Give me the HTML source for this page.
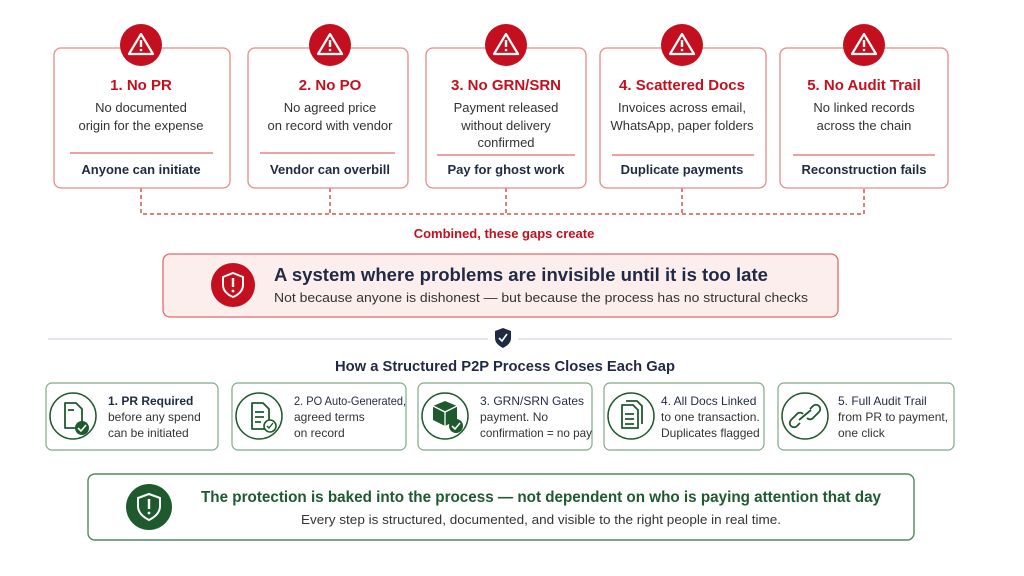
<!DOCTYPE html>
<html><head><meta charset="utf-8"><style>
html,body{margin:0;padding:0;background:#fff;}
svg{display:block;font-family:"Liberation Sans",sans-serif;}
</style></head><body>
<svg width="1024" height="576" viewBox="0 0 1024 576" xmlns="http://www.w3.org/2000/svg">
<rect width="1024" height="576" fill="#fff"/>
<g stroke="#d9534f" stroke-width="1.5" stroke-dasharray="4,3" fill="none">
<path d="M141 188V214H864V188"/><path d="M330 188V214"/><path d="M506 188V214"/><path d="M682 188V214"/>
</g>
<g fill="#fff" stroke="#e88a87" stroke-width="1.3">
<rect x="54" y="48" width="176" height="140" rx="7"/>
<rect x="248" y="48" width="160" height="140" rx="7"/>
<rect x="426" y="48" width="160" height="140" rx="7"/>
<rect x="600" y="48" width="166" height="140" rx="7"/>
<rect x="780" y="48" width="168" height="140" rx="7"/>
</g>
<g stroke="#e06b67" stroke-width="1.2">
<line x1="70" y1="153" x2="213" y2="153"/><line x1="260" y1="153" x2="395" y2="153"/>
<line x1="437" y1="155" x2="575" y2="155"/><line x1="612" y1="155" x2="754" y2="155"/>
<line x1="793" y1="155" x2="935" y2="155"/>
</g>
<g fill="#c4101e">
<circle cx="141" cy="45" r="21"/><circle cx="330" cy="45" r="21"/><circle cx="506" cy="45" r="21"/><circle cx="682" cy="45" r="21"/><circle cx="864" cy="45" r="21"/>
</g>
<g fill="none" stroke="#fff" stroke-width="2.2" stroke-linejoin="round">
<path d="M141 34L153 54H129Z"/><path d="M330 34L342 54H318Z"/><path d="M506 34L518 54H494Z"/><path d="M682 34L694 54H670Z"/><path d="M864 34L876 54H852Z"/>
</g>
<g fill="#fff">
<rect x="139.8" y="40" width="2.4" height="7"/><circle cx="141" cy="50" r="1.3"/>
<rect x="328.8" y="40" width="2.4" height="7"/><circle cx="330" cy="50" r="1.3"/>
<rect x="504.8" y="40" width="2.4" height="7"/><circle cx="506" cy="50" r="1.3"/>
<rect x="680.8" y="40" width="2.4" height="7"/><circle cx="682" cy="50" r="1.3"/>
<rect x="862.8" y="40" width="2.4" height="7"/><circle cx="864" cy="50" r="1.3"/>
</g>
<g font-weight="bold" font-size="15" fill="#c4101e" text-anchor="middle">
<text x="141" y="90">1. No PR</text><text x="330" y="90">2. No PO</text><text x="506" y="90">3. No GRN/SRN</text>
<text x="682" y="90">4. Scattered Docs</text><text x="864" y="90">5. No Audit Trail</text>
</g>
<g font-size="13" fill="#333" text-anchor="middle">
<text x="141" y="112">No documented</text><text x="141" y="130">origin for the expense</text>
<text x="330" y="112">No agreed price</text><text x="330" y="130">on record with vendor</text>
<text x="506" y="112">Payment released</text><text x="506" y="130">without delivery</text><text x="506" y="147">confirmed</text>
<text x="682" y="112">Invoices across email,</text><text x="682" y="130">WhatsApp, paper folders</text>
<text x="864" y="112">No linked records</text><text x="864" y="130">across the chain</text>
</g>
<g font-size="13" font-weight="bold" fill="#1f2a44" text-anchor="middle">
<text x="141" y="174">Anyone can initiate</text><text x="330" y="174">Vendor can overbill</text>
<text x="506" y="174">Pay for ghost work</text><text x="682" y="174">Duplicate payments</text><text x="864" y="174">Reconstruction fails</text>
</g>
<text x="504" y="238" text-anchor="middle" font-size="13" font-weight="bold" fill="#c4101e">Combined, these gaps create</text>
<rect x="163" y="254" width="675" height="63" rx="7" fill="#fdeeee" stroke="#e06b67" stroke-width="1.3"/>
<circle cx="233" cy="285" r="22" fill="#c4101e"/>
<path d="M233 273L243 277V285C243 291 238 295 233 297C228 295 223 291 223 285V277Z" fill="none" stroke="#fff" stroke-width="2"/>
<rect x="231.8" y="278" width="2.4" height="9" fill="#fff"/><circle cx="233" cy="291" r="1.4" fill="#fff"/>
<text x="274" y="281" font-size="18" font-weight="bold" fill="#1f2a44" textLength="494" lengthAdjust="spacingAndGlyphs">A system where problems are invisible until it is too late</text>
<text x="274" y="302" font-size="13" fill="#333" textLength="534" lengthAdjust="spacingAndGlyphs">Not because anyone is dishonest — but because the process has no structural checks</text>
<line x1="48" y1="339" x2="488" y2="339" stroke="#c5ccd8" stroke-width="1"/>
<line x1="518" y1="339" x2="952" y2="339" stroke="#c5ccd8" stroke-width="1"/>
<path d="M503 328L511 331V338C511 343 507 346 503 348C499 346 495 343 495 338V331Z" fill="#1f2a44"/>
<path d="M499 338L502 341L507 334" fill="none" stroke="#fff" stroke-width="1.6"/>
<text x="505" y="371" text-anchor="middle" font-size="15" font-weight="bold" fill="#1f2a44" textLength="340" lengthAdjust="spacingAndGlyphs">How a Structured P2P Process Closes Each Gap</text>
<g fill="#fff" stroke="#7faa88" stroke-width="1.2">
<rect x="46" y="383" width="172" height="67" rx="6"/><rect x="232" y="383" width="174" height="67" rx="6"/>
<rect x="418" y="383" width="174" height="67" rx="6"/><rect x="604" y="383" width="160" height="67" rx="6"/>
<rect x="778" y="383" width="176" height="67" rx="6"/>
</g>
<g fill="none" stroke="#1f5a2e" stroke-width="1.5">
<circle cx="73" cy="416" r="23"/><circle cx="259" cy="416" r="23"/><circle cx="445" cy="416" r="23"/><circle cx="631" cy="416" r="23"/><circle cx="805" cy="416" r="23"/>
</g>
<g fill="none" stroke="#1f5a2e" stroke-width="1.8" stroke-linejoin="round">
<path d="M65 403H76L82 409V428H65Z"/><path d="M68 410H74"/>
<path d="M252 403H263L269 409V429H252Z"/><path d="M255 412H264M255 417H264M255 422H261"/>
<path d="M622 405H633L638 410V428H622Z"/><path d="M626 401H637L642 406V424"/><path d="M625 414H634M625 419H634M625 424H634"/>
<path d="M800 423L797 426A4 4 0 0 1 791 420L797 414A4 4 0 0 1 803 414"/>
<path d="M810 409L813 406A4 4 0 0 1 819 412L813 418A4 4 0 0 1 807 418"/>
<path d="M799 420L811 410"/>
</g>
<path d="M445 401L457 406V420L445 426L433 420V406Z" fill="#1f5a2e"/>
<path d="M433 406L445 412L457 406M445 412V426" stroke="#fff" stroke-width="1.3" fill="none"/>
<g fill="#1f5a2e"><circle cx="82" cy="428" r="7"/><circle cx="456" cy="426" r="7"/></g>
<circle cx="270" cy="426" r="6" fill="#fff" stroke="#1f5a2e" stroke-width="1.6"/>
<g fill="none" stroke="#fff" stroke-width="1.6"><path d="M78 428L81 431L86 425"/><path d="M452 426L455 429L460 423"/></g>
<path d="M267 426L269 428L273 423" fill="none" stroke="#1f5a2e" stroke-width="1.4"/>
<g font-size="12" fill="#333">
<text x="108" y="405" font-weight="bold" fill="#1f2a44">1. PR Required</text><text x="108" y="421">before any spend</text><text x="108" y="437">can be initiated</text>
<text x="294" y="405" fill="#1f2a44" textLength="112" lengthAdjust="spacingAndGlyphs">2. PO Auto-Generated,</text><text x="294" y="421">agreed terms</text><text x="294" y="437">on record</text>
<text x="480" y="405" fill="#1f2a44">3. GRN/SRN Gates</text><text x="480" y="421">payment. No</text><text x="480" y="437" textLength="112" lengthAdjust="spacingAndGlyphs">confirmation = no pay</text>
<text x="661" y="405" fill="#1f2a44">4. All Docs Linked</text><text x="661" y="421">to one transaction.</text><text x="661" y="437">Duplicates flagged</text>
<text x="838" y="405" fill="#1f2a44">5. Full Audit Trail</text><text x="838" y="421">from PR to payment,</text><text x="838" y="437">one click</text>
</g>
<rect x="88" y="474" width="826" height="66" rx="7" fill="#fff" stroke="#4f8a5e" stroke-width="1.4"/>
<circle cx="149" cy="507" r="23" fill="#1f5a2e"/>
<path d="M149 494L160 498V506C160 513 155 517 149 520C143 517 138 513 138 506V498Z" fill="none" stroke="#fff" stroke-width="2"/>
<rect x="147.8" y="499" width="2.4" height="10" fill="#fff"/><circle cx="149" cy="513" r="1.4" fill="#fff"/>
<text x="541" y="502" text-anchor="middle" font-size="16" font-weight="bold" fill="#1f5a2e" textLength="680" lengthAdjust="spacingAndGlyphs">The protection is baked into the process — not dependent on who is paying attention that day</text>
<text x="541" y="524" text-anchor="middle" font-size="13" fill="#333" textLength="480" lengthAdjust="spacingAndGlyphs">Every step is structured, documented, and visible to the right people in real time.</text>
</svg>
</body></html>
